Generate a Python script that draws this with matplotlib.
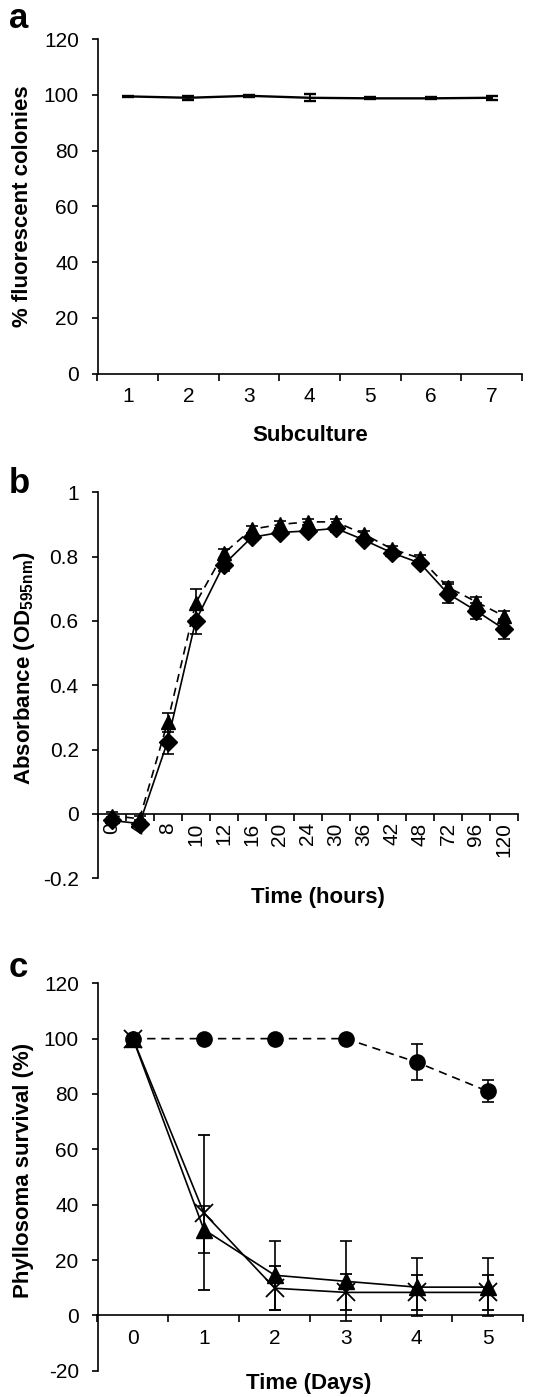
import numpy as np
import matplotlib
matplotlib.use("Agg")
import matplotlib.pyplot as plt

plt.rcParams['font.family'] = ['Liberation Sans', 'DejaVu Sans']
plt.rcParams['mathtext.fontset'] = 'custom'
plt.rcParams['mathtext.rm'] = 'Liberation Sans'
plt.rcParams['mathtext.bf'] = 'Liberation Sans:bold'
plt.rcParams['axes.unicode_minus'] = False

# ----- Data -----
# panel a: fluorescence stability over subcultures
sub_labels = ['1', '2', '3', '4', '5', '6', '7']
fluor_pct = [99.5, 99.0, 99.7, 99.0, 98.8, 98.8, 99.0]
fluor_err = [0.3, 0.8, 0.3, 1.2, 0.4, 0.4, 0.8]

# panel b: growth curves
time_labels = ['0', '4', '8', '10', '12', '16', '20', '24', '30', '36',
               '42', '48', '72', '96', '120']
od_diamond = [-0.02, -0.03, 0.225, 0.60, 0.775, 0.86, 0.875, 0.88, 0.888,
              0.852, 0.812, 0.78, 0.685, 0.632, 0.575]
od_diamond_err = [0.01, 0.01, 0.04, 0.04, 0.02, 0.01, 0.01, 0.01, 0.01,
                  0.01, 0.01, 0.01, 0.03, 0.025, 0.03]
od_triangle = [-0.005, -0.015, 0.285, 0.655, 0.81, 0.885, 0.90, 0.908, 0.908,
               0.87, 0.824, 0.795, 0.705, 0.66, 0.615]
od_triangle_err = [0.01, 0.01, 0.03, 0.045, 0.015, 0.01, 0.01, 0.01, 0.01,
                   0.01, 0.01, 0.01, 0.015, 0.015, 0.015]

# panel c: phyllosoma survival
day_labels = ['0', '1', '2', '3', '4', '5']
surv_circle = [100, 100, 100, 100, 91.5, 81]
surv_circle_err = [0, 0, 0, 0, 6.5, 4]
surv_triangle = [100, 31, 14.5, 12.3, 10.2, 10.2]
surv_triangle_err = [0, 8.5, 12.5, 14.5, 10.5, 10.5]
surv_cross = [100, 37, 9.8, 8.3, 8.3, 8.3]
surv_cross_err = [0, 28, 8, 6.5, 6.4, 6.4]

W, H = 538, 1397
TICK_FS = 15
LAB_FS = 16
LW = 1.2
DASH = (0, (5, 3.5))


def category_axis(ax, labels, rotation=0, pad=10):
    n = len(labels)
    ax.set_xlim(-0.5, n - 0.5)
    ax.set_xticks(np.arange(-0.5, n, 1.0))
    ax.set_xticklabels([])
    ax.set_xticks(np.arange(n), minor=True)
    ax.set_xticklabels(labels, minor=True)
    ax.tick_params(axis='x', which='major', direction='out', length=5,
                   width=LW)
    ax.tick_params(axis='x', which='minor', length=0, pad=pad,
                   labelsize=TICK_FS, labelrotation=rotation)
    ax.tick_params(axis='y', direction='out', length=4.5, width=LW,
                   labelsize=TICK_FS, pad=9)
    for s in ['top', 'right']:
        ax.spines[s].set_visible(False)
    for s in ['left', 'bottom']:
        ax.spines[s].set_linewidth(LW)
    ax.spines['bottom'].set_position(('data', 0))


def frac(left, right, top, bottom):
    return [left / W, 1 - bottom / H, (right - left) / W, (bottom - top) / H]


fig = plt.figure(figsize=(W / 100, H / 100), dpi=100)

# ----- Panel a -----
ax1 = fig.add_axes(frac(97.5, 522, 39.3, 373.5))
x1 = np.arange(len(sub_labels))
ax1.errorbar(x1, fluor_pct, yerr=fluor_err, color='black', lw=1.7,
             capsize=4.5, capthick=1.7, elinewidth=1.3)
ax1.set_ylim(0, 120)
ax1.set_yticks(np.arange(0, 121, 20))
category_axis(ax1, sub_labels, pad=9.5)
ax1.set_xlabel('Subculture', fontsize=LAB_FS, fontweight='bold')
ax1.set_ylabel('% fluorescent colonies', fontsize=LAB_FS, fontweight='bold')
ax1.xaxis.set_label_coords(0.5, -0.155)
ax1.yaxis.set_label_coords(-0.153, 0.5)

# ----- Panel b -----
ax2 = fig.add_axes(frac(97.5, 518, 492.3, 878.3))
x2 = np.arange(len(time_labels))
ax2.errorbar(x2, od_triangle, yerr=od_triangle_err, color='black', lw=LW,
             ls=DASH, marker='^', ms=10.5, capsize=4.5, capthick=LW,
             elinewidth=LW)
ax2.errorbar(x2, od_diamond, yerr=od_diamond_err, color='black', lw=LW,
             marker='D', ms=9, capsize=4.5, capthick=LW, elinewidth=LW)
ax2.set_ylim(-0.2, 1.0)
ax2.set_yticks([-0.2, 0, 0.2, 0.4, 0.6, 0.8, 1.0])
ax2.set_yticklabels(['-0.2', '0', '0.2', '0.4', '0.6', '0.8', '1'])
category_axis(ax2, time_labels, rotation=90, pad=6)
ax2.set_xlabel('Time (hours)', fontsize=LAB_FS, fontweight='bold')
ax2.set_ylabel(r'Absorbance (OD$_{\mathbf{595nm}}$)', fontsize=LAB_FS,
               fontweight='bold')
ax2.xaxis.set_label_coords(0.524, -0.022)
ax2.yaxis.set_label_coords(-0.143, 0.545)

# ----- Panel c -----
ax3 = fig.add_axes(frac(97.5, 523, 983.3, 1370.7))
x3 = np.arange(len(day_labels))
ax3.errorbar(x3, surv_circle, yerr=surv_circle_err, color='black', lw=LW,
             ls=DASH, marker='o', ms=11, capsize=4.5, capthick=LW,
             elinewidth=LW)
ax3.errorbar(x3, surv_triangle, yerr=surv_triangle_err, color='black', lw=LW,
             marker='^', ms=11, capsize=4.5, capthick=LW, elinewidth=LW)
ax3.errorbar(x3, surv_cross, yerr=surv_cross_err, color='black', lw=LW,
             marker='x', ms=13, mew=1.3, capsize=4.5, capthick=LW,
             elinewidth=LW)
ax3.set_ylim(-20, 120)
ax3.set_yticks(np.arange(-20, 121, 20))
category_axis(ax3, day_labels, pad=9.5)
ax3.set_xlabel('Time (Days)', fontsize=LAB_FS, fontweight='bold')
ax3.set_ylabel('Phyllosoma survival (%)', fontsize=LAB_FS, fontweight='bold')
ax3.xaxis.set_label_coords(0.496, -0.006)
ax3.yaxis.set_label_coords(-0.150, 0.518)

# panel letters
for letter, ybase in [('a', 28), ('b', 493), ('c', 977)]:
    fig.text(9 / W, 1 - ybase / H, letter, fontsize=25, fontweight='bold',
             ha='left', va='baseline')

fig.savefig('out.png', dpi=100)
